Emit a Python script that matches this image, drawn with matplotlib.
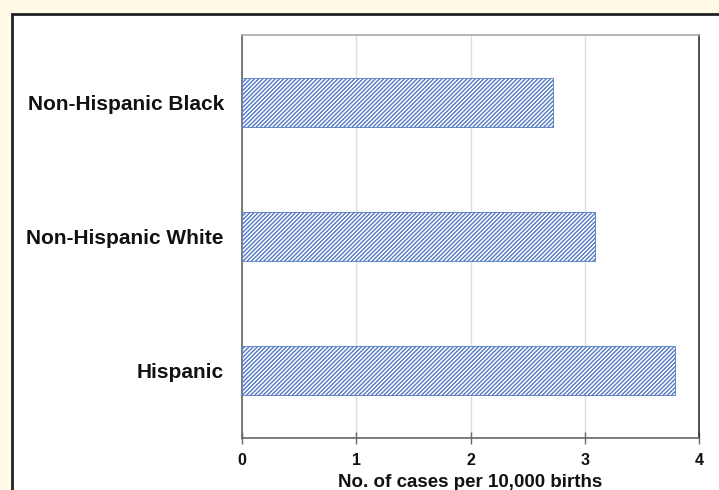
import matplotlib
matplotlib.use("Agg")
import matplotlib.pyplot as plt
from matplotlib.patches import Rectangle

categories = ["Hispanic", "Non-Hispanic White", "Non-Hispanic Black"]
values = [3.79, 3.09, 2.72]
xticks = [0, 1, 2, 3, 4]

plt.rcParams['font.family'] = ['Liberation Sans', 'DejaVu Sans']
plt.rcParams['hatch.linewidth'] = 1.0

W, H = 719, 490
fig = plt.figure(figsize=(W/100, H/100), dpi=100)
fig.patch.set_facecolor('#fffbe6')

# white inner panel with dark border
fig.patches.append(Rectangle((12/W, -0.1), 1.2, (H-14)/H + 0.1, transform=fig.transFigure,
                             facecolor='white', edgecolor='#222222', linewidth=2, zorder=-10))

ax = fig.add_axes([242/W, 1-438/H, (699-242)/W, (438-35)/H])
ax.set_zorder(5)
ax.set_facecolor('white')
ypos = list(range(len(categories)))
ax.barh(ypos, values, height=0.365, color='white', edgecolor='#5279c2',
        hatch='////////', linewidth=0.6, zorder=3)

ax.set_xlim(0, 4)
ax.set_ylim(-0.5, 2.5)
ax.set_xticks(xticks)
ax.set_xticklabels([str(t) for t in xticks], fontsize=11.5, fontweight='bold', color='#111111')
ax.set_yticks(ypos)
ax.set_yticklabels(categories, fontsize=15, fontweight='bold', color='#111111')
ax.tick_params(axis='y', length=0, pad=13)
ax.tick_params(axis='x', direction='inout', length=8, width=1, color='#666666', pad=7)
ax.xaxis.grid(True, color='#dddddd', linewidth=1, zorder=0)
ax.set_axisbelow(True)

ax.spines['left'].set_color('#666666')
ax.spines['bottom'].set_color('#666666')
ax.spines['top'].set_color('#aaaaaa')
ax.spines['right'].set_color('#333333')
for s in ax.spines.values():
    s.set_linewidth(1.2)

ax.set_xlabel("No. of cases per 10,000 births", fontsize=13.5, fontweight='bold',
              color='#111111', labelpad=4)

fig.savefig("out.png", dpi=100, facecolor=fig.get_facecolor())
